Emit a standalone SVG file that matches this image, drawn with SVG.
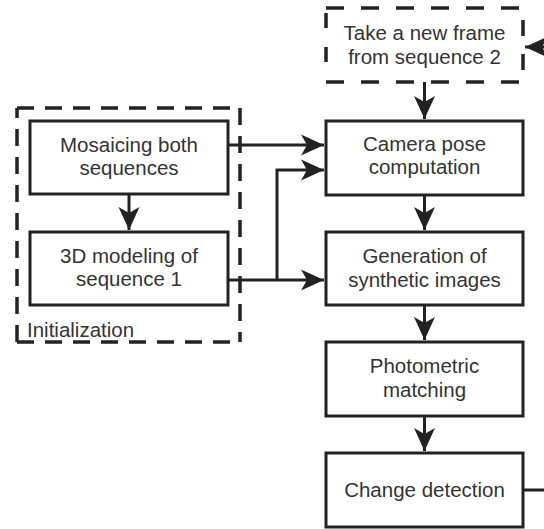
<svg xmlns="http://www.w3.org/2000/svg" width="544" height="529" viewBox="0 0 544 529">
<style>
.box{fill:#fff;stroke:#222;stroke-width:3}
.dash{fill:none;stroke:#222;stroke-width:3.5}
.t{font-family:"Liberation Sans",Arial,sans-serif;font-size:20.5px;fill:#333;text-anchor:middle}
.tl{font-family:"Liberation Sans",Arial,sans-serif;font-size:20.5px;fill:#333}
.c{fill:none;stroke:#222;stroke-width:3}
</style>
<defs>
<marker id="ah" viewBox="-24 -11 26 22" refX="0" refY="0" markerWidth="26" markerHeight="22" markerUnits="userSpaceOnUse" orient="auto">
<path d="M0,0 L-23,-10.5 L-17,0 L-23,10.5 Z" fill="#222"/>
</marker>
</defs>
<g id="init">
<path d="M17,108 H240" class="dash" stroke-dasharray="17 11"/>
<path d="M240,108 V342" class="dash" stroke-dasharray="17 11"/>
<path d="M17,342 H240" class="dash" stroke-dasharray="17 11"/>
<path d="M17,342 V108" class="dash" stroke-dasharray="17 11"/>
<text x="27" y="337" class="tl">Initialization</text>
</g>
<g id="newframe">
<path d="M326,8 H523" class="dash" stroke-dasharray="18 17"/>
<path d="M326,82 H523" class="dash" stroke-dasharray="18 17"/>
<path d="M326,13 V66" class="dash" stroke-dasharray="15 19"/>
<path d="M523,20 V74" class="dash" stroke-dasharray="16 18"/>
<text x="424.5" y="40" class="t">Take a new frame</text>
<text x="424.5" y="64" class="t">from sequence 2</text>
</g>
<g id="mosaic">
<rect x="30" y="121" width="198" height="73" class="box"/>
<text x="129" y="152" class="t">Mosaicing both</text>
<text x="129" y="175" class="t">sequences</text>
</g>
<g id="model">
<rect x="30" y="232" width="198" height="73" class="box"/>
<text x="129" y="263" class="t">3D modeling of</text>
<text x="129" y="286" class="t">sequence 1</text>
</g>
<g id="camera">
<rect x="326" y="121" width="197" height="74" class="box"/>
<text x="424.5" y="151" class="t">Camera pose</text>
<text x="424.5" y="174" class="t">computation</text>
</g>
<g id="synth">
<rect x="326" y="232" width="197" height="73" class="box"/>
<text x="424.5" y="263" class="t">Generation of</text>
<text x="424.5" y="287" class="t">synthetic images</text>
</g>
<g id="photo">
<rect x="326" y="342" width="197" height="74" class="box"/>
<text x="424.5" y="373" class="t">Photometric</text>
<text x="424.5" y="397" class="t">matching</text>
</g>
<g id="change">
<rect x="326" y="453" width="197" height="74" class="box"/>
<text x="424.5" y="497" class="t">Change detection</text>
</g>
<g id="connectors">
<path d="M424.5,82 V119" class="c" marker-end="url(#ah)"/>
<path d="M424.5,195 V230" class="c" marker-end="url(#ah)"/>
<path d="M424.5,305 V340" class="c" marker-end="url(#ah)"/>
<path d="M424.5,416 V451" class="c" marker-end="url(#ah)"/>
<path d="M129,194 V230" class="c" marker-end="url(#ah)"/>
<path d="M228,145 H324" class="c" marker-end="url(#ah)"/>
<path d="M228,280 H324" class="c" marker-end="url(#ah)"/>
<path d="M277,280 V170 H324" class="c" marker-end="url(#ah)"/>
<path d="M523,490 H560 V47 H525" class="c" marker-end="url(#ah)"/>
</g>
</svg>
